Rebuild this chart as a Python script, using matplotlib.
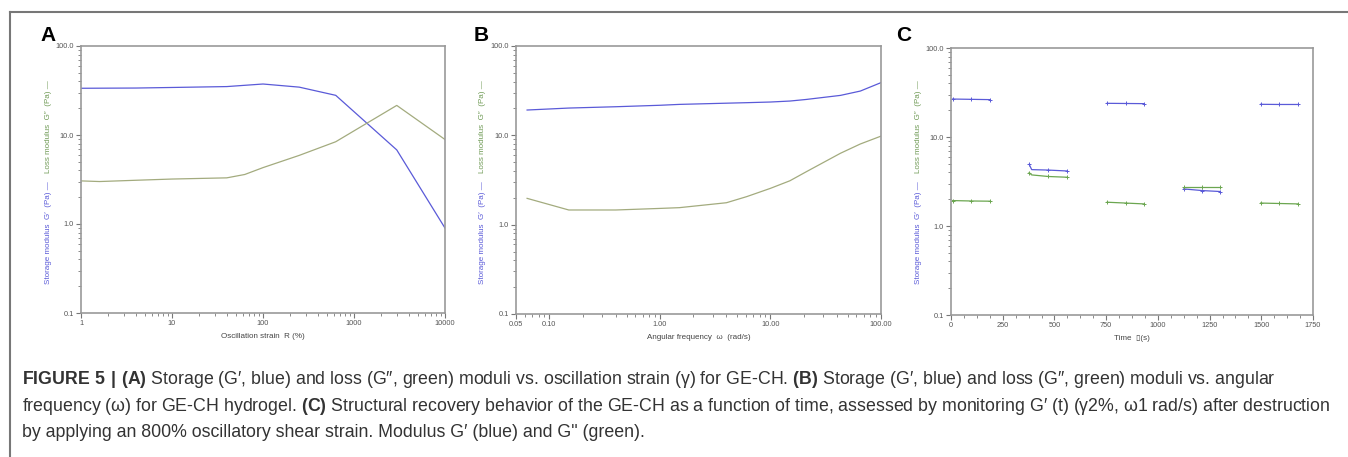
import numpy as np
import matplotlib
matplotlib.use('Agg')
import matplotlib.pyplot as plt
from matplotlib.ticker import FixedLocator, FixedFormatter, LogLocator, NullFormatter, MultipleLocator

plt.rcParams['font.family'] = ['Liberation Sans', 'DejaVu Sans']
plt.rcParams['mathtext.fontset'] = 'custom'
plt.rcParams['mathtext.rm'] = 'Liberation Sans'
plt.rcParams['mathtext.bf'] = 'Liberation Sans:bold'

### DATA
# A: amplitude sweep
strainA = [1, 4, 10, 40, 100, 250, 630, 2950, 10000]
gpA = [33.5, 33.7, 34.2, 35.0, 37.4, 34.5, 27.9, 6.8, 0.9]
strainA2 = [1, 1.6, 4, 10, 40, 63, 100, 250, 630, 2950, 10000]
gppA = [3.05, 3.0, 3.1, 3.2, 3.3, 3.6, 4.3, 5.9, 8.4, 21.5, 8.9]

# B: frequency sweep
freqB = [0.063, 0.15, 0.4, 1.0, 1.5, 4.0, 6.1, 10, 15, 21, 43, 65, 100]
gpB = [19.2, 20.2, 20.9, 21.7, 22.2, 22.9, 23.2, 23.6, 24.2, 25.2, 28.0, 31.3, 38.9]
gppB = [1.97, 1.46, 1.46, 1.52, 1.55, 1.76, 2.06, 2.55, 3.1, 3.9, 6.3, 8.0, 9.8]

# C: recovery test, one list per step
timeC = [[8, 97, 188],
         [378, 390, 470, 562],
         [755, 845, 934],
         [1125, 1215, 1302],
         [1497, 1588, 1679]]
gpC = [[26.7, 26.5, 26.3],
       [4.93, 4.3, 4.25, 4.15],
       [23.9, 23.8, 23.7],
       [2.61, 2.50, 2.44],
       [23.3, 23.2, 23.2]]
gppC = [[1.93, 1.91, 1.90],
        [3.98, 3.75, 3.6, 3.53],
        [1.85, 1.81, 1.77],
        [2.72, 2.72, 2.72],
        [1.81, 1.79, 1.77]]

ylab_blue = "Storage modulus  G\u2032  (Pa) \u2014"
ylab_green = "Loss modulus  G\u2033  (Pa) \u2014"
xlabels = ["Oscillation strain  R (%)", "Angular frequency  \u03c9  (rad/s)", "Time  \u25af(s)"]

blue = '#5a5ad8'
greenAB = '#a3ab7e'
greenC = '#6ba650'
gray = '#999999'
tickcol = '#555555'

W, H = 1348, 457
fig = plt.figure(figsize=(W/100, H/100), dpi=100)

# background axes for frame and caption
bg = fig.add_axes([0, 0, 1, 1])
bg.set_xlim(0, W)
bg.set_ylim(H, 0)
bg.axis('off')
bg.plot([10, W], [12, 12], color='#777777', lw=1.5)
bg.plot([10, 10], [12, H], color='#777777', lw=1.5)

cap1 = ("$\\mathbf{FIGURE\\ 5\\ |\\ (A)}$ Storage (G\u2032, blue) and loss (G\u2033, green) moduli vs. "
        "oscillation strain (\u03b3) for GE-CH. $\\mathbf{(B)}$ Storage (G\u2032, blue) and loss "
        "(G\u2033, green) moduli vs. angular")
cap2 = ("frequency (\u03c9) for GE-CH hydrogel. $\\mathbf{(C)}$ Structural recovery behavior of the GE-CH "
        "as a function of time, assessed by monitoring G\u2032 (t) (\u03b32%, \u03c91 rad/s) after destruction")
cap3 = "by applying an 800% oscillatory shear strain. Modulus G\u2032 (blue) and G\" (green)."
for yy, txt in zip([384, 411, 437], [cap1, cap2, cap3]):
    bg.text(22, yy, txt, fontsize=12.8, color='#333333', va='baseline', ha='left')

def px2fig(l, t, r, b):
    return [l/W, 1 - b/H, (r-l)/W, (b-t)/H]

axA = fig.add_axes(px2fig(81, 46, 445, 313))
axB = fig.add_axes(px2fig(516, 46, 881, 314))
axC = fig.add_axes(px2fig(951, 48, 1313, 315))

def style(ax):
    ax.set_yscale('log')
    ax.set_ylim(0.1, 100)
    ax.yaxis.set_major_locator(FixedLocator([0.1, 1, 10, 100]))
    ax.yaxis.set_major_formatter(FixedFormatter(['0.1', '1.0', '10.0', '100.0']))
    ax.yaxis.set_minor_locator(LogLocator(base=10, subs=np.arange(2, 10)))
    ax.yaxis.set_minor_formatter(NullFormatter())
    for s in ax.spines.values():
        s.set_color(gray)
        s.set_linewidth(1.2)
    ax.tick_params(which='major', length=3.5, width=0.8, color='#777777', labelsize=5.3,
                   labelcolor=tickcol, pad=1.5, direction='out')
    ax.tick_params(which='minor', length=2, width=0.6, color='#777777', direction='out')

### A
axA.plot(strainA, gpA, color=blue, lw=0.9)
axA.plot(strainA2, gppA, color=greenAB, lw=0.9)
axA.set_xscale('log')
axA.set_xlim(1, 10000)
style(axA)
axA.xaxis.set_major_locator(FixedLocator([1, 10, 100, 1000, 10000]))
axA.xaxis.set_major_formatter(FixedFormatter(['1', '10', '100', '1000', '10000']))
axA.xaxis.set_minor_locator(LogLocator(base=10, subs=np.arange(2, 10)))
axA.xaxis.set_minor_formatter(NullFormatter())

### B
axB.plot(freqB, gpB, color=blue, lw=0.9)
axB.plot(freqB, gppB, color=greenAB, lw=0.9)
axB.set_xscale('log')
axB.set_xlim(0.05, 100)
style(axB)
axB.xaxis.set_major_locator(FixedLocator([0.05, 0.1, 1, 10, 100]))
axB.xaxis.set_major_formatter(FixedFormatter(['0.05', '0.10', '1.00', '10.00', '100.00']))
axB.xaxis.set_minor_locator(LogLocator(base=10, subs=np.arange(2, 10)))
axB.xaxis.set_minor_formatter(NullFormatter())

### C
for t, g1, g2 in zip(timeC, gpC, gppC):
    me = [0, len(t)//2, len(t)-1] if len(t) == 3 else [0, 2, 3]
    axC.plot(t, g1, color=blue, lw=0.9, marker='+', ms=3, mew=0.7, markevery=me)
    axC.plot(t, g2, color=greenC, lw=0.9, marker='+', ms=3, mew=0.7, markevery=me)
axC.set_xlim(0, 1750)
style(axC)
axC.xaxis.set_major_locator(MultipleLocator(250))
axC.xaxis.set_minor_locator(MultipleLocator(62.5))

### labels
for ax, xl, lx, letter, letx in zip([axA, axB, axC], xlabels, [48, 483, 919], 'ABC', [40, 474, 896]):
    ax.set_xlabel(xl, fontsize=5.8, color='#444444', labelpad=4.5)
    bg.text(lx, 233, ylab_blue, rotation=90, fontsize=5.8, color=blue, ha='center', va='center')
    bg.text(lx, 127, ylab_green, rotation=90, fontsize=5.8, color='#6f9a55', ha='center', va='center')
    bg.text(letx, 41, letter, fontsize=15, fontweight='bold', color='black', ha='left', va='baseline')

fig.savefig('out.png', dpi=100)
